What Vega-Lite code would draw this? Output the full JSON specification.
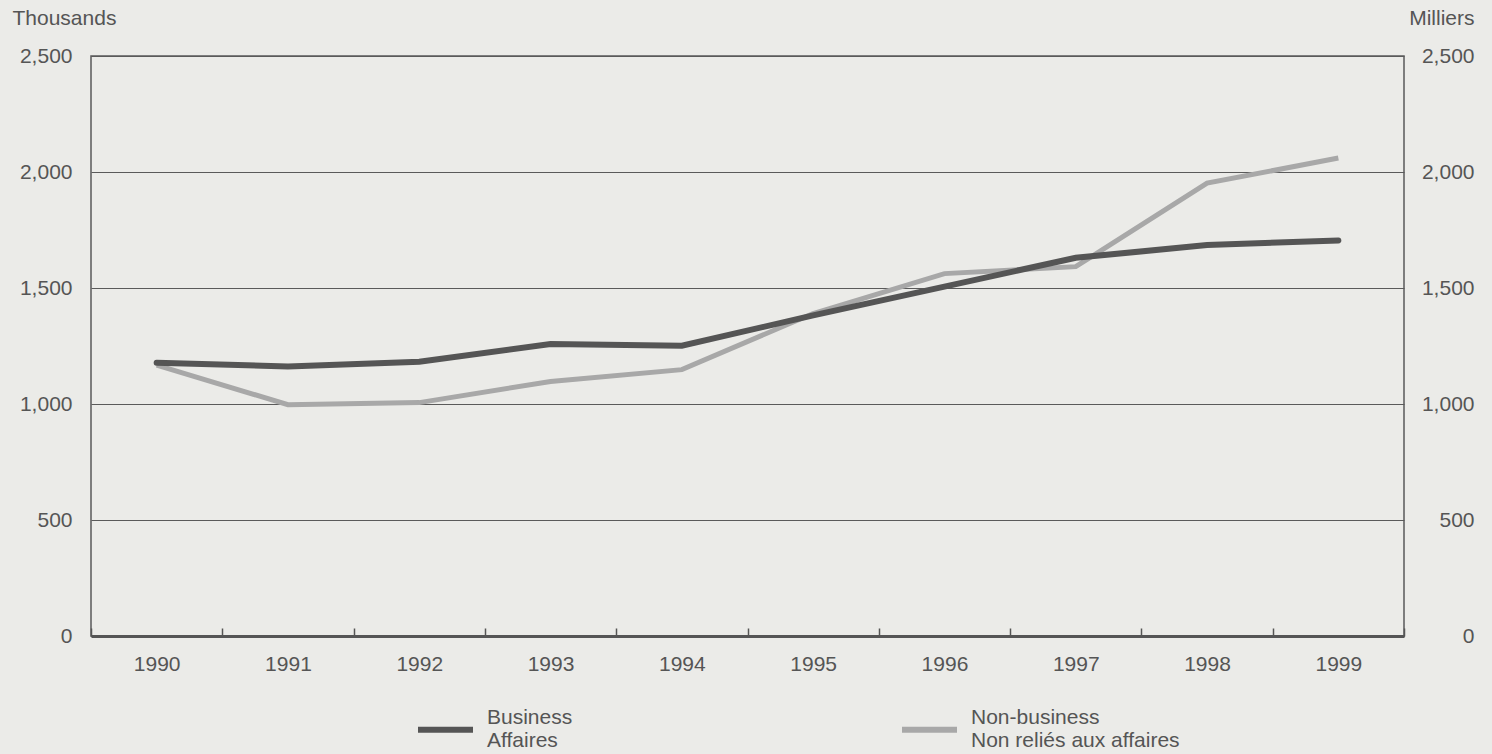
{
  "$schema": "https://vega.github.io/schema/vega-lite/v6.json",
  "width": 1313,
  "height": 580,
  "autosize": {"type": "none"},
  "padding": {"left": 91, "top": 56, "right": 88, "bottom": 118},
  "background": "#ebebe8",
  "config": {
    "font": "Liberation Sans",
    "view": {"stroke": "#5a5a5a", "strokeWidth": 1.5}
  },
  "data": {
    "values": [
      {"year": "1990", "series": "Business", "value": 1178},
      {"year": "1991", "series": "Business", "value": 1162},
      {"year": "1992", "series": "Business", "value": 1182},
      {"year": "1993", "series": "Business", "value": 1259},
      {"year": "1994", "series": "Business", "value": 1251},
      {"year": "1995", "series": "Business", "value": 1382},
      {"year": "1996", "series": "Business", "value": 1506},
      {"year": "1997", "series": "Business", "value": 1630},
      {"year": "1998", "series": "Business", "value": 1685},
      {"year": "1999", "series": "Business", "value": 1705},
      {"year": "1990", "series": "Non-business", "value": 1168},
      {"year": "1991", "series": "Non-business", "value": 997},
      {"year": "1992", "series": "Non-business", "value": 1006},
      {"year": "1993", "series": "Non-business", "value": 1097},
      {"year": "1994", "series": "Non-business", "value": 1148},
      {"year": "1995", "series": "Non-business", "value": 1390},
      {"year": "1996", "series": "Non-business", "value": 1562},
      {"year": "1997", "series": "Non-business", "value": 1592},
      {"year": "1998", "series": "Non-business", "value": 1952},
      {"year": "1999", "series": "Non-business", "value": 2060}
    ]
  },
  "encoding": {
    "x": {
      "field": "year",
      "type": "ordinal",
      "bandPosition": 0.5,
      "scale": {"type": "band", "paddingInner": 0, "paddingOuter": 0},
      "axis": {
        "title": null,
        "labelAngle": 0,
        "labelFontSize": 21,
        "labelColor": "#555555",
        "labelPadding": 25,
        "tickBand": "extent",
        "tickSize": -8,
        "tickColor": "#555555",
        "tickWidth": 1.5,
        "domainColor": "#555555",
        "domainWidth": 3,
        "grid": false
      }
    },
    "color": {
      "field": "series",
      "type": "nominal",
      "scale": {"domain": ["Business", "Non-business"], "range": ["#555555", "#a8a8a8"]},
      "legend": {
        "orient": "none",
        "legendX": 324,
        "legendY": 631,
        "direction": "horizontal",
        "columns": 2,
        "columnPadding": 317,
        "title": null,
        "padding": 0,
        "symbolType": "M-1,0.44L1,0.44",
        "symbolSize": 3025,
        "symbolStrokeWidth": 6,
        "labelFontSize": 21,
        "labelColor": "#555555",
        "labelOffset": 11,
        "labelLimit": 400,
        "labelExpr": "datum.label == 'Business' ? ['Business', 'Affaires'] : ['Non-business', 'Non reliés aux affaires']"
      }
    }
  },
  "layer": [
    {
      "transform": [{"filter": "datum.series == 'Non-business'"}],
      "mark": {"type": "line", "strokeWidth": 5, "strokeCap": "butt"},
      "encoding": {
        "y": {
          "field": "value",
          "type": "quantitative",
          "scale": {"domain": [0, 2500], "nice": false},
          "axis": {
            "orient": "left",
            "values": [0, 500, 1000, 1500, 2000, 2500],
            "format": ",d",
            "grid": true,
            "gridColor": "#5a5a5a",
            "gridWidth": 1,
            "domain": false,
            "ticks": false,
            "labelPadding": 19,
            "labelFontSize": 21,
            "labelColor": "#555555",
            "title": "Thousands",
            "titleAngle": 0,
            "titleX": -79,
            "titleY": -38,
            "titleAlign": "left",
            "titleBaseline": "middle",
            "titleFontWeight": "normal",
            "titleFontSize": 21,
            "titleColor": "#555555"
          }
        }
      }
    },
    {
      "transform": [{"filter": "datum.series == 'Business'"}],
      "mark": {"type": "line", "strokeWidth": 6, "strokeCap": "round"},
      "encoding": {
        "y": {
          "field": "value",
          "type": "quantitative",
          "scale": {"domain": [0, 2500], "nice": false},
          "axis": {
            "orient": "right",
            "values": [0, 500, 1000, 1500, 2000, 2500],
            "format": ",d",
            "grid": false,
            "domain": false,
            "ticks": false,
            "labelAlign": "right",
            "labelPadding": 70,
            "labelFontSize": 21,
            "labelColor": "#555555",
            "title": "Milliers",
            "titleAngle": 0,
            "titleX": 70,
            "titleY": -38,
            "titleAlign": "right",
            "titleBaseline": "middle",
            "titleFontWeight": "normal",
            "titleFontSize": 21,
            "titleColor": "#555555"
          }
        }
      }
    }
  ],
  "resolve": {"axis": {"y": "independent"}}
}
